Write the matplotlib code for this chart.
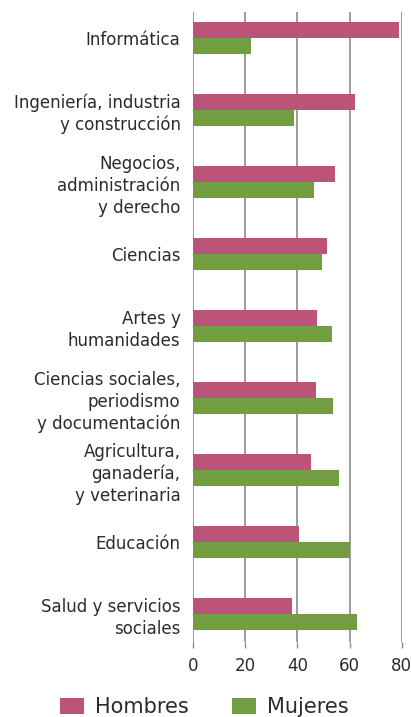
import matplotlib
matplotlib.use("Agg")
import matplotlib.pyplot as plt
import numpy as np

categories = [
    "Informática",
    "Ingeniería, industria\ny construcción",
    "Negocios,\nadministración\ny derecho",
    "Ciencias",
    "Artes y\nhumanidades",
    "Ciencias sociales,\nperiodismo\ny documentación",
    "Agricultura,\nganadería,\ny veterinaria",
    "Educación",
    "Salud y servicios\nsociales",
]
hombres = [79.0, 62.2, 54.5, 51.5, 47.6, 47.2, 45.3, 40.7, 38.0]
mujeres = [22.3, 38.8, 46.5, 49.5, 53.4, 53.8, 56.1, 60.3, 62.9]
xticks = [0, 20, 40, 60, 80]
series_names = ["Hombres", "Mujeres"]

pink = "#BC5475"
green = "#739D42"
txt = "#2b2b2b"

plt.rcParams['font.family'] = ['DejaVu Sans']

fig = plt.figure(figsize=(4.11, 7.17), dpi=100)
ax = fig.add_axes([193/411, 1-642/717, (401.7-193)/411, (642-12)/717])

y = np.arange(len(categories))
h = 0.222
ax.barh(y - h/2, hombres, height=h, color=pink, label=series_names[0], zorder=3)
ax.barh(y + h/2, mujeres, height=h, color=green, label=series_names[1], zorder=3)

ax.set_ylim(8.39, -0.36)
ax.set_xlim(0, 80)
ax.set_xticks(xticks)
ax.set_xticklabels([str(v) for v in xticks], fontsize=12, color=txt)
ax.set_yticks(y)
ax.set_yticklabels(categories, fontsize=12, color=txt, linespacing=1.28)
ax.tick_params(axis='y', length=0, pad=9)
ax.tick_params(axis='x', length=4, width=1, color="#8a8a8a", pad=7)
for s in ax.spines.values():
    s.set_visible(False)
ax.grid(axis='x', color="#8a8a8a", linewidth=1.2, zorder=0)
ax.set_axisbelow(True)

fig.legend(loc='center', bbox_to_anchor=(0.497, 0.014), ncol=2, frameon=False,
           fontsize=15, handlelength=1.15, handleheight=0.8, columnspacing=2.1,
           handletextpad=0.5, labelcolor=txt)

fig.savefig("out.png", dpi=100)
